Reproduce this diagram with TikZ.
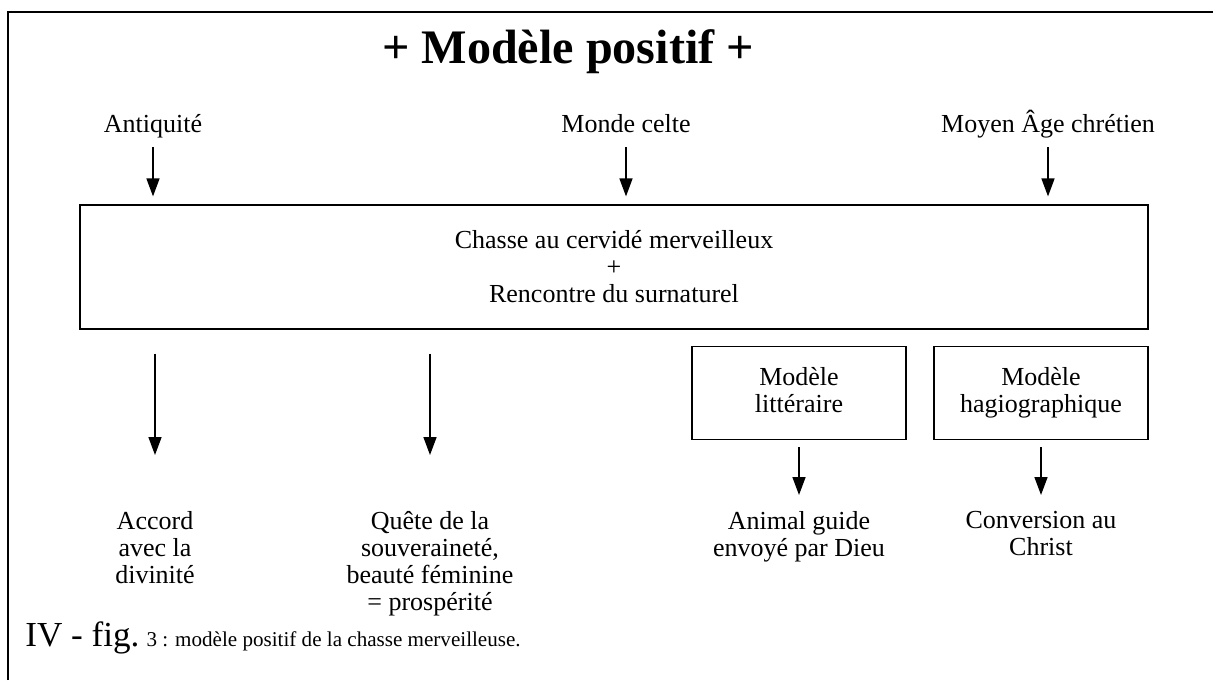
\documentclass[tikz,border=0pt]{standalone}
\usepackage{fontspec}
\setmainfont{Liberation Serif}
\usetikzlibrary{arrows.meta}

\begin{document}
\begin{tikzpicture}[x=0.02cm, y=-0.02cm,
    every node/.style={inner sep=0pt, align=center, font=\fontsize{14.8}{15.4}\selectfont},
    arr/.style={-{Triangle[length=0.36cm, width=0.26cm]}, line width=0.85pt},
    cadre/.style={draw, line width=0.7pt},
    modele/.style={cadre, minimum width=4.28cm, minimum height=1.86cm}]
  \useasboundingbox (0,0) rectangle (1213,680);
  \draw[line width=1.1pt] (8,680) -- (8,12) -- (1213,12);

  \node[anchor=base, font=\fontsize{27.4}{32}\bfseries] (titre) at (568,63) {+ Modèle positif +};

  % sources
  \node[anchor=base] (antiq) at (153,132) {Antiquité};
  \node[anchor=base] (celte) at (626,132) {Monde celte};
  \node[anchor=base] (moyen) at (1048,132) {Moyen Âge chrétien};

  \node[cadre, minimum width=21.36cm, minimum height=2.48cm]
    (chasse) at (614,267) {Chasse au cervidé merveilleux\\+\\Rencontre du surnaturel};

  \draw[arr, shorten >=0.16cm] ([yshift=-0.3cm]antiq.base) -- (antiq.base |- chasse.north);
  \draw[arr, shorten >=0.16cm] ([yshift=-0.3cm]celte.base) -- (celte.base |- chasse.north);
  \draw[arr, shorten >=0.16cm] ([yshift=-0.3cm]moyen.base) -- (moyen.base |- chasse.north);

  % modeles
  \node[modele] (litt) at (799,393) {Modèle\\littéraire\rule[-4pt]{0pt}{0pt}};
  \node[modele] (hagio) at (1041,393) {Modèle\\hagiographique\rule[-4pt]{0pt}{0pt}};

  % issues
  \node[anchor=north] (accord) at (155,511) {Accord\\avec la\\divinité};
  \node[anchor=north] (quete) at (430,511) {Quête de la\\souveraineté,\\beauté féminine\\= prospérité};
  \node[anchor=north] (animal) at (799,511) {Animal guide\\envoyé par Dieu};
  \node[anchor=north] (conv) at (1041,511) {Conversion au\\Christ};

  \draw[arr, shorten <=0.48cm, shorten >=1.12cm] (accord.north |- chasse.south) -- (accord.north);
  \draw[arr, shorten <=0.48cm, shorten >=1.12cm] (quete.north |- chasse.south) -- (quete.north);
  \draw[arr, shorten <=0.14cm, shorten >=0.32cm] (litt.south) -- (animal.north);
  \draw[arr, shorten <=0.14cm, shorten >=0.32cm] (hagio.south) -- (conv.north);

  \node[anchor=base west, font=\fontsize{12}{14}\selectfont] (legende) at (25,646)
    {{\fontsize{20}{22}\selectfont IV - fig.} 3 : modèle positif de la chasse merveilleuse.};
\end{tikzpicture}
\end{document}
